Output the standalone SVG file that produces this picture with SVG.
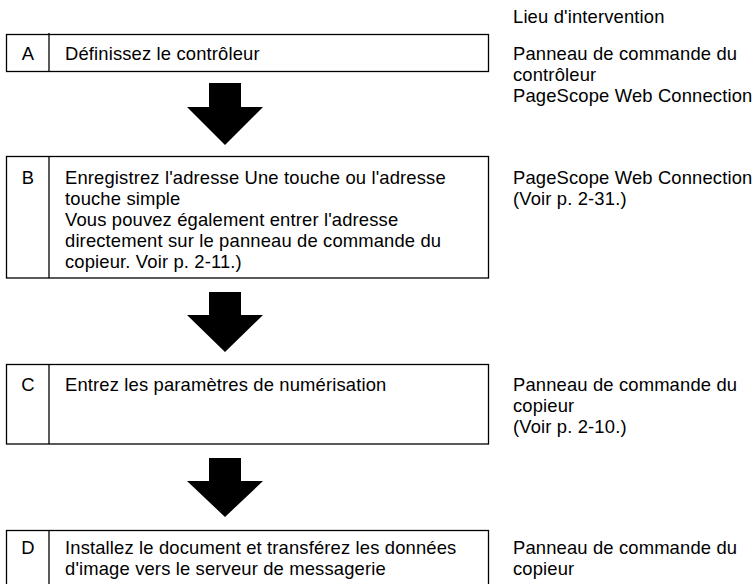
<svg xmlns="http://www.w3.org/2000/svg" width="756" height="584" viewBox="0 0 756 584">
<style>
  .frame { fill: #ffffff; stroke: #000000; stroke-width: 1.3; }
  .div { stroke: #000000; stroke-width: 1.3; }
  text { font-family: "Liberation Sans", Arial, Helvetica, sans-serif; font-size: 18.4px; letter-spacing: 0.15px; fill: #000000; }
  .key { text-anchor: middle; letter-spacing: 0; }
  .arrow { fill: #000000; stroke: none; }
</style>
<rect width="756" height="584" fill="#ffffff"/>

<g id="header">
  <text x="513" y="23">Lieu d'intervention</text>
</g>

<g id="step-A">
  <rect class="frame" x="6.5" y="34.5" width="482" height="37"/>
  <line class="div" x1="49" y1="33" x2="49" y2="71.5"/>
  <text class="key" x="28" y="59.5">A</text>
  <text x="65" y="59.5">Définissez le contrôleur</text>
</g>
<g id="place-A">
  <text x="513" y="59.5">Panneau de commande du</text>
  <text x="513" y="80.5">contrôleur</text>
  <text x="513" y="101.5">PageScope Web Connection</text>
</g>

<g id="step-B">
  <rect class="frame" x="6.5" y="156.5" width="482" height="121.5"/>
  <line class="div" x1="49" y1="156.5" x2="49" y2="278"/>
  <text class="key" x="28" y="183.5">B</text>
  <text x="65" y="183.5">Enregistrez l'adresse Une touche ou l'adresse</text>
  <text x="65" y="204.5">touche simple</text>
  <text x="65" y="225.5">Vous pouvez également entrer l'adresse</text>
  <text x="65" y="246.5">directement sur le panneau de commande du</text>
  <text x="65" y="267.5">copieur. Voir p. 2-11.)</text>
</g>
<g id="place-B">
  <text x="513" y="183.5">PageScope Web Connection</text>
  <text x="513" y="204.5">(Voir p. 2-31.)</text>
</g>

<g id="step-C">
  <rect class="frame" x="6.5" y="364.5" width="482" height="79.5"/>
  <line class="div" x1="49" y1="364.5" x2="49" y2="444"/>
  <text class="key" x="28" y="390.5">C</text>
  <text x="65" y="390.5">Entrez les paramètres de numérisation</text>
</g>
<g id="place-C">
  <text x="513" y="390.5">Panneau de commande du</text>
  <text x="513" y="411.5">copieur</text>
  <text x="513" y="432.5">(Voir p. 2-10.)</text>
</g>

<g id="step-D">
  <rect class="frame" x="6.5" y="530.5" width="482" height="80"/>
  <line class="div" x1="49" y1="530.5" x2="49" y2="600"/>
  <text class="key" x="28" y="553.5">D</text>
  <text x="65" y="553.5">Installez le document et transférez les données</text>
  <text x="65" y="574.5">d'image vers le serveur de messagerie</text>
</g>
<g id="place-D">
  <text x="513" y="553.5">Panneau de commande du</text>
  <text x="513" y="574.5">copieur</text>
</g>

<g id="connectors">
  <polygon class="arrow" points="209,83 241,83 241,107 263,107 225,145 187,107 209,107"/>
  <polygon class="arrow" points="209,292 241,292 241,315 263,315 225,352 187,315 209,315"/>
  <polygon class="arrow" points="209,458 241,458 241,481 263,481 225,517 187,481 209,481"/>
</g>
</svg>
